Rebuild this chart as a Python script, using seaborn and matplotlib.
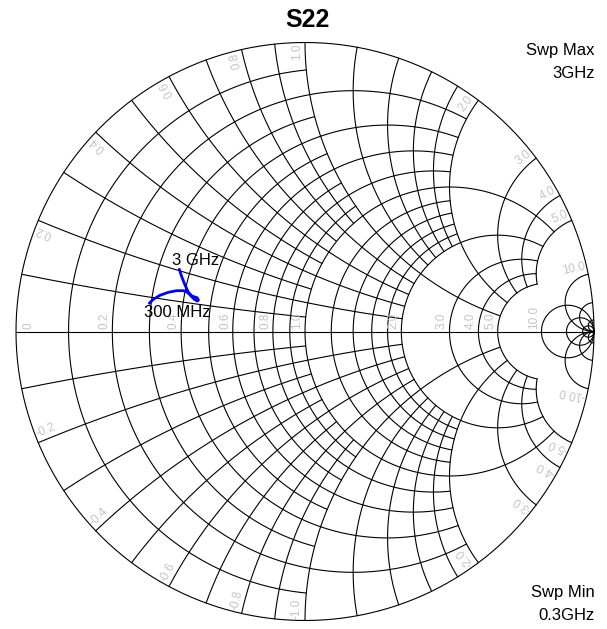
import numpy as np
import pandas as pd
import seaborn as sns
import matplotlib
matplotlib.use('Agg')
import matplotlib.pyplot as plt

# S22 trace (reflection coefficient, real / imag), 0.3 GHz -> 3 GHz
s22_re = [-0.5388, -0.5249, -0.5017, -0.4730, -0.4439, -0.4211, -0.4083, -0.3979,
          -0.3865, -0.3727, -0.3806, -0.3685, -0.3824, -0.3720, -0.3910, -0.4031,
          -0.4152, -0.4266, -0.4349]
s22_im = [0.0976, 0.1114, 0.1253, 0.1356, 0.1412, 0.1412, 0.1367, 0.1263,
          0.1149, 0.1055, 0.1176, 0.1090, 0.1107, 0.1159, 0.1228, 0.1349,
          0.1609, 0.1896, 0.2152]
marker_labels = ['300 MHz', '3 GHz']
sweep_max = ['Swp Max', '3GHz']
sweep_min = ['Swp Min', '0.3GHz']

# smith chart grid: values and how far each family reaches
fine_vals = [0.1, 0.2, 0.3, 0.4, 0.5, 0.6, 0.7, 0.8, 0.9, 1.0]
mid_vals = [0.2, 0.4, 0.6, 0.8, 1.0, 1.2, 1.4, 1.6, 1.8, 2.0]
coarse_vals = [1.0, 2.0, 3.0, 4.0, 5.0]
outer_vals = [10.0, 20.0, 50.0]
families = [(fine_vals, 1.0), (mid_vals, 2.0), (coarse_vals, 5.0), (outer_vals, np.inf)]

r_labels = [0, 0.2, 0.4, 0.6, 0.8, 1.0, 2.0, 3.0, 4.0, 5.0, 10.0]
x_labels = [0.2, 0.4, 0.6, 0.8, 1.0, 2.0, 3.0, 4.0, 5.0, 10.0]

# pixel layout of the chart
W, H = 607, 629
CX, CY, R = 305, 331.5, 289.0
PX = 1.0 / R  # one pixel in gamma units


def gamma(z):
    return (z - 1) / (z + 1)


def r_circle(r, lim):
    c, rho = r / (1 + r), 1 / (1 + r)
    if np.isinf(lim):
        t = np.linspace(0, 2 * np.pi, 400)
    else:
        tl = np.angle(gamma(r + 1j * lim) - c)
        t = np.linspace(tl, 2 * np.pi - tl, 400)
    return c + rho * np.exp(1j * t)


def x_arc(x, lim):
    c, rho = 1 + 1j / x, 1 / x
    a0 = np.angle(gamma(1j * x) - c) % (2 * np.pi)
    if np.isinf(lim):
        a1 = 1.5 * np.pi
    else:
        a1 = np.angle(gamma(lim + 1j * x) - c) % (2 * np.pi)
    t = np.linspace(a0, a1, 300)
    return c + rho * np.exp(1j * t)


limits = {}
for vals, lim in families:
    for v in vals:
        limits[v] = max(limits.get(v, 0), lim)

sns.set_style('white')
plt.rcParams['font.family'] = ['Liberation Sans', 'DejaVu Sans']
plt.rcParams['text.color'] = 'black'

fig = plt.figure(figsize=(W / 100, H / 100), dpi=100)
ax = fig.add_axes([0, 0, 1, 1])
ax.set_xlim(-CX / R, (W - CX) / R)
ax.set_ylim(-(H - CY) / R, CY / R)
ax.axis('off')

grid_kw = dict(color='black', lw=0.8, zorder=1)
# outer circle and real axis
t = np.linspace(0, 2 * np.pi, 600)
ax.plot(np.cos(t), np.sin(t), **grid_kw)
ax.plot([-1, 1], [0, 0], **grid_kw)
for v, lim in limits.items():
    g = r_circle(v, lim)
    ax.plot(g.real, g.imag, **grid_kw)
    g = x_arc(v, lim)
    ax.plot(g.real, g.imag, **grid_kw)
    ax.plot(g.real, -g.imag, **grid_kw)

# resistance labels along the real axis
lab_kw = dict(color='#c4c4c4', fontsize=8.5, zorder=2)
for r in r_labels:
    gx = (r - 1) / (r + 1)
    txt = '0' if r == 0 else f'{r:.1f}'
    if r == 0:
        ax.text(gx + 6 * PX, 2.5 * PX, txt, rotation=90, ha='left', va='bottom', **lab_kw)
    else:
        ax.text(gx - 1.5 * PX, 2.5 * PX, txt, rotation=90, ha='right', va='bottom', **lab_kw)

# reactance labels around the rim
for x in x_labels:
    for sign in (1, -1):
        th = np.angle(gamma(1j * x * sign))
        rr = 1 - 1.5 * PX
        perp = th + sign * np.pi / 2
        px = rr * np.cos(th) + 2 * PX * np.cos(perp)
        py = rr * np.sin(th) + 2 * PX * np.sin(perp)
        if sign > 0:
            ax.text(px, py, f'{x:.1f}', rotation=np.degrees(th), rotation_mode='anchor',
                    ha='right', va='bottom', **lab_kw)
        else:
            ax.text(px, py, f'-{x:.1f}', rotation=np.degrees(th) + 180, rotation_mode='anchor',
                    ha='left', va='bottom', **lab_kw)

# trace
df = pd.DataFrame({'re': s22_re, 'im': s22_im, 'step': range(len(s22_re))})
sns.lineplot(data=df, x='re', y='im', sort=False, estimator=None, color='#0000ff',
             lw=2.0, ax=ax, zorder=3)
ax.set_xlabel('')
ax.set_ylabel('')

ax.annotate(marker_labels[0], (s22_re[0], s22_im[0]), xytext=(20, -6.5),
            textcoords='offset points', ha='center', va='center', fontsize=12,
            color='black', zorder=4)
ax.annotate(marker_labels[-1], (s22_re[-1], s22_im[-1]), xytext=(-5, 6),
            textcoords='offset points', ha='left', va='center', fontsize=12,
            color='black', zorder=4)

fig.text(307 / W, 1 - 20 / H, 'S22', ha='center', va='center', fontsize=18,
         fontweight='bold', color='black')
fig.text(595 / W, 1 - 50 / H, sweep_max[0], ha='right', va='center', fontsize=12, color='black')
fig.text(595 / W, 1 - 73 / H, sweep_max[1], ha='right', va='center', fontsize=12, color='black')
fig.text(595 / W, 1 - 593 / H, sweep_min[0], ha='right', va='center', fontsize=12, color='black')
fig.text(595 / W, 1 - 615 / H, sweep_min[1], ha='right', va='center', fontsize=12, color='black')

fig.savefig('out.png', dpi=100)
